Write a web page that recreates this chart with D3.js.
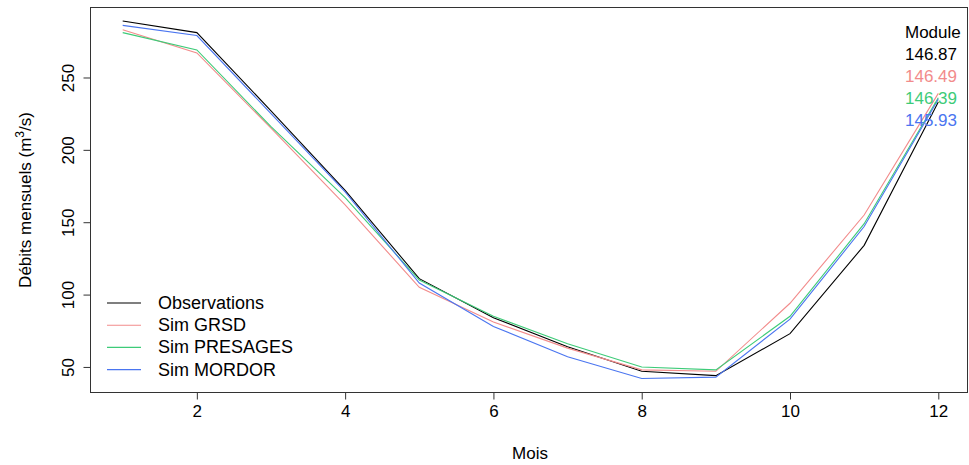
<!DOCTYPE html>
<meta charset="utf-8">
<style>
body { margin: 0; background: #fff; }
text { font-family: "Liberation Sans", Arial, sans-serif; fill: #000; }
</style>
<body>
<script src="https://d3js.org/d3.v7.min.js"></script>
<script>

var width = 969, height = 465;

// months and monthly flows (m3/s)
var months = [1, 2, 3, 4, 5, 6, 7, 8, 9, 10, 11, 12];
var obs      = [289, 281, 227, 172, 111, 84, 64, 47, 44, 73, 134, 233];
var simGRSD  = [283, 267, 215, 162, 105, 81, 63, 48, 47, 94, 155, 239];
var simPRES  = [281, 269, 216, 167, 110, 85, 66, 50, 48, 85, 149, 236];
var simMORD  = [286, 279, 225, 171, 108, 78, 57, 42, 43, 83, 147, 235];

var seriesNames = ["Observations", "Sim GRSD", "Sim PRESAGES", "Sim MORDOR"];
var modules = ["146.87", "146.49", "146.39", "145.93"];
var colors = ["#000000", "#F28B8B", "#3DCB78", "#4A75F0"];
var xTicks = [2, 4, 6, 8, 10, 12];
var yTicks = [50, 100, 150, 200, 250];

var series = [obs, simGRSD, simPRES, simMORD];

var box = {left: 90.5, top: 7.5, right: 967.5, bottom: 392.5};

var x = d3.scaleLinear().domain([1, 12]).range([122.7, 938.3]);
var y = d3.scaleLinear().domain([32, 298.7]).range([393, 7]);

var svg = d3.select("body").append("svg")
    .attr("width", width)
    .attr("height", height);

// x axis (R style: ticks outside, labels below)
var xAxis = svg.append("g")
    .attr("transform", "translate(0," + box.bottom + ")")
    .call(d3.axisBottom(x).tickValues(xTicks).tickSize(7).tickPadding(5));
xAxis.select(".domain").remove();
xAxis.selectAll("line").attr("stroke", "#333");
xAxis.selectAll("text").attr("font-size", 17).attr("font-family", "Liberation Sans, Arial, sans-serif");

// y axis with rotated labels
var yAxis = svg.append("g")
    .attr("transform", "translate(" + box.left + ",0)")
    .call(d3.axisLeft(y).tickValues(yTicks).tickSize(7).tickFormat(d3.format("d")));
yAxis.select(".domain").remove();
yAxis.selectAll("line").attr("stroke", "#333");
yAxis.selectAll("text")
    .attr("font-size", 17)
    .attr("font-family", "Liberation Sans, Arial, sans-serif")
    .attr("x", null).attr("dy", null)
    .attr("text-anchor", "middle")
    .attr("transform", "translate(-17,0) rotate(-90)");

// plot box
svg.append("rect")
    .attr("x", box.left).attr("y", box.top)
    .attr("width", box.right - box.left).attr("height", box.bottom - box.top)
    .attr("fill", "none").attr("stroke", "#333").attr("stroke-width", 1);

// lines
var line = d3.line()
    .x(function(d, i) { return x(months[i]); })
    .y(function(d) { return y(d); });

svg.selectAll(".serie")
  .data(series)
  .enter().append("path")
    .attr("class", "serie")
    .attr("d", line)
    .attr("fill", "none")
    .attr("stroke", function(d, i) { return colors[i]; })
    .attr("stroke-width", 1.1);

// axis titles
svg.append("text")
    .attr("x", 530).attr("y", 459)
    .attr("text-anchor", "middle")
    .attr("font-size", 17)
    .text("Mois");

var ylab = svg.append("text")
    .attr("transform", "translate(31,200) rotate(-90)")
    .attr("text-anchor", "middle")
    .attr("font-size", 17);
ylab.append("tspan").text("Débits mensuels (m");
ylab.append("tspan").attr("dy", -7).attr("font-size", 12).text("3");
ylab.append("tspan").attr("dy", 7).text("/s)");

// legend
var leg = svg.append("g");
seriesNames.forEach(function(name, i) {
  var ly = 303 + i * 22.2;
  leg.append("line")
      .attr("x1", 107).attr("x2", 141)
      .attr("y1", ly).attr("y2", ly)
      .attr("stroke", colors[i]).attr("stroke-width", 1.1);
  leg.append("text")
      .attr("x", 158).attr("y", ly + 6)
      .attr("font-size", 18)
      .text(name);
});

// module values
svg.append("text")
    .attr("x", 905).attr("y", 38)
    .attr("font-size", 17)
    .text("Module");
modules.forEach(function(m, i) {
  svg.append("text")
      .attr("x", 905).attr("y", 60 + i * 22)
      .attr("font-size", 17)
      .style("fill", colors[i])
      .text(m);
});

</script>
</body>
